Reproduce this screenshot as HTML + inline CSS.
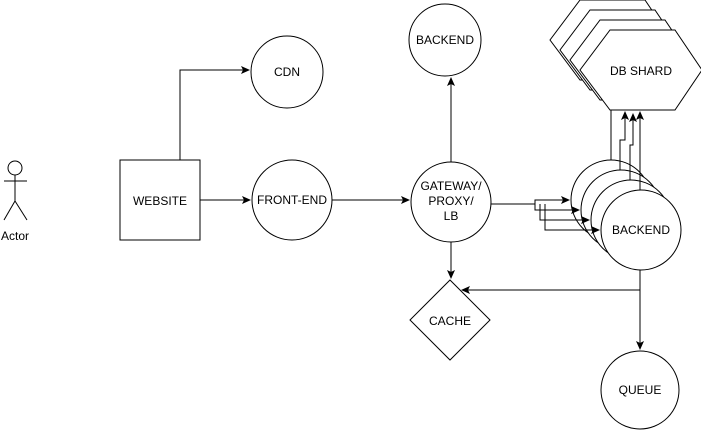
<!DOCTYPE html>
<html><head><style>html,body{margin:0;padding:0;background:#fff}svg{display:block}text{font-family:"Liberation Sans",sans-serif;font-size:12px;fill:#000}</style></head><body>
<svg width="701" height="431" viewBox="0 0 701 431" xmlns="http://www.w3.org/2000/svg">
<defs><marker id="a" markerWidth="10" markerHeight="10" refX="8" refY="4" orient="auto" markerUnits="userSpaceOnUse"><path d="M0,0 L9,4 L0,8 L2,4 Z" fill="#000"/></marker></defs>
<g fill="#fff" stroke="#000" stroke-width="1">
<!-- actor -->
<circle cx="15" cy="168" r="7"/>
<line x1="15" y1="175" x2="15" y2="201"/><line x1="4" y1="181" x2="27" y2="181"/>
<line x1="15" y1="201" x2="4" y2="220"/><line x1="15" y1="201" x2="27" y2="220"/>
<rect x="120" y="160" width="80" height="80"/>
<circle cx="287" cy="72" r="36"/>
<circle cx="445" cy="40" r="36"/>
<circle cx="292" cy="200" r="40"/>
<circle cx="451" cy="202" r="40"/>
<polygon points="450,280 490,320 450,360 410,320"/>
<circle cx="640" cy="390" r="39"/>
<!-- hexagons -->
<polygon points="580,0 645,0 672,40 645,80 580,80 550,40"/>
<polygon points="590,10 655,10 682,50 655,90 590,90 560,50"/>
<polygon points="600,20 665,20 692,60 665,100 600,100 570,60"/>
<polygon points="610,30 675,30 702,70 675,110 610,110 580,70"/>
<!-- backends -->
<circle cx="611" cy="200" r="40"/>
<circle cx="621" cy="210" r="40"/>
<circle cx="631" cy="220" r="40"/>
<circle cx="641" cy="230" r="40"/>
</g>
<g fill="none" stroke="#000" stroke-width="1">
<polyline points="180,160 180,70 249,70" marker-end="url(#a)"/>
<line x1="200" y1="200" x2="250" y2="200" marker-end="url(#a)"/>
<line x1="332" y1="200" x2="409" y2="200" marker-end="url(#a)"/>
<line x1="451" y1="162" x2="451" y2="78" marker-end="url(#a)"/>
<line x1="451" y1="242" x2="451" y2="278" marker-end="url(#a)"/>
<line x1="640" y1="270" x2="640" y2="349" marker-end="url(#a)"/>
<line x1="640" y1="290" x2="462" y2="290" marker-end="url(#a)"/>
<polyline points="491,204 535,204 535,200 569,200" marker-end="url(#a)"/>
<polyline points="535,204 535,210 579,210" marker-end="url(#a)"/>
<polyline points="540,204 540,220 589,220" marker-end="url(#a)"/>
<polyline points="545,204 545,230 599,230" marker-end="url(#a)"/>
<line x1="611" y1="160" x2="611" y2="110"/>
<polyline points="620,170 620,140 625,140 625,112" marker-end="url(#a)"/>
<polyline points="630,180 630,145 633,145 633,114" marker-end="url(#a)"/>
<line x1="640" y1="190" x2="640" y2="112" marker-end="url(#a)"/>
</g>
<g text-anchor="middle">
<text x="15" y="240" font-size="11">Actor</text>
<text x="160" y="205">WEBSITE</text>
<text x="287" y="76">CDN</text>
<text x="445" y="44">BACKEND</text>
<text x="292" y="204">FRONT-END</text>
<text x="451" y="190">GATEWAY/</text>
<text x="451" y="205">PROXY/</text>
<text x="451" y="220">LB</text>
<text x="450" y="325">CACHE</text>
<text x="640" y="394">QUEUE</text>
<text x="641" y="75">DB SHARD</text>
<text x="641" y="234">BACKEND</text>
</g>
</svg>
</body></html>
